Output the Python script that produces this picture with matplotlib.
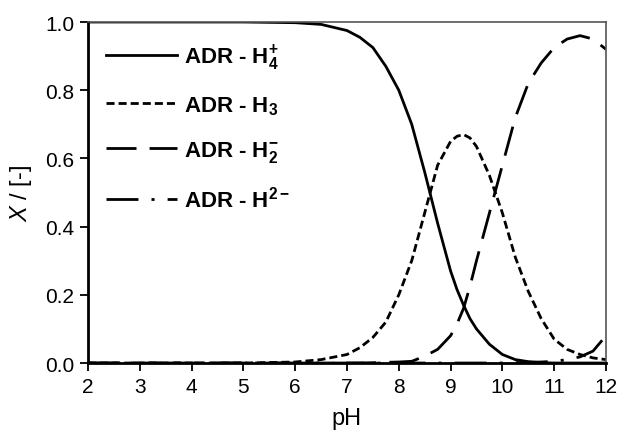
import numpy as np
import matplotlib
matplotlib.use("Agg")
import matplotlib.pyplot as plt

plt.rcParams['font.family'] = 'Liberation Sans'
plt.rcParams['mathtext.fontset'] = 'custom'
plt.rcParams['mathtext.rm'] = 'Liberation Sans:bold'
plt.rcParams['mathtext.it'] = 'Liberation Sans:italic'
plt.rcParams['mathtext.bf'] = 'Liberation Sans:bold'

# Speciation of adrenaline vs pH (mole fractions)
ph = [2.0, 3.0, 4.0, 5.0, 6.0, 6.5, 7.0, 7.25, 7.5, 7.75, 8.0, 8.25, 8.5, 8.75,
      9.0, 9.125, 9.25, 9.375, 9.5, 9.75, 10.0, 10.25, 10.5, 10.75, 11.0, 11.25, 11.5, 11.75, 12.0]
x_h4 = [1.0, 1.0, 1.0, 1.0, 0.998, 0.993, 0.975, 0.955, 0.925, 0.87, 0.80, 0.70, 0.56, 0.41,
        0.27, 0.215, 0.17, 0.13, 0.10, 0.055, 0.025, 0.01, 0.004, 0.001, 0.0, 0.0, 0.0, 0.0, 0.0]
x_h3 = [0.0, 0.0, 0.0, 0.0, 0.003, 0.01, 0.025, 0.045, 0.075, 0.12, 0.20, 0.30, 0.44, 0.58,
        0.65, 0.665, 0.67, 0.66, 0.635, 0.55, 0.44, 0.31, 0.21, 0.13, 0.07, 0.04, 0.025, 0.015, 0.01]
x_h2 = [0.0, 0.0, 0.0, 0.0, 0.0, 0.0, 0.0, 0.0, 0.001, 0.002, 0.003, 0.005, 0.02, 0.04,
        0.08, 0.115, 0.16, 0.225, 0.30, 0.44, 0.58, 0.72, 0.82, 0.88, 0.925, 0.95, 0.96, 0.95, 0.92]
x_h = [0.0, 0.0, 0.0, 0.0, 0.0, 0.0, 0.0, 0.0, 0.0, 0.0, 0.0, 0.0, 0.0, 0.0,
       0.0, 0.0, 0.0, 0.0, 0.0, 0.0, 0.0, 0.001, 0.002, 0.003, 0.005, 0.01, 0.018, 0.035, 0.08]

labels = [r'ADR - H$_4^{+}$', r'ADR - H$_3$', r'ADR - H$_2^{-}$', r'ADR - H$^{2-}$']

fig = plt.figure(figsize=(6.21, 4.39), dpi=100)
ax = fig.add_axes([0.1417, 0.1708, 0.8341, 0.7768])

lw = 2.0
ax.plot(ph, x_h4, color='black', lw=lw, ls='-', label=labels[0])
ax.plot(ph, x_h3, color='black', lw=lw, ls=(0, (2.9, 1.45)), label=labels[1])
ax.plot(ph, x_h2, color='black', lw=lw, ls=(0, (10.8, 4.7)), label=labels[2])
ax.plot(ph, x_h, color='black', lw=lw, ls=(0, (11.5, 4.7, 1.1, 4.7)), label=labels[3])

ax.set_xlim(2, 12)
ax.set_ylim(0, 1.0)
ax.set_xticks(np.arange(2, 13, 1))
ax.set_yticks(np.arange(0, 1.01, 0.2))
ax.set_yticklabels(['0.0', '0.2', '0.4', '0.6', '0.8', '1.0'])
ax.tick_params(direction='out', length=6, width=1.3, labelsize=15, colors='black', pad=4)

for s in ['left', 'bottom']:
    ax.spines[s].set_linewidth(2)
for s in ['top', 'right']:
    ax.spines[s].set_linewidth(1.2)
    ax.spines[s].set_color('#555555')

ax.set_xlabel('pH', fontsize=17, labelpad=8)
ax.set_ylabel(r'$X$ / [-]', fontsize=17, labelpad=8)

ax.legend(loc='upper left', bbox_to_anchor=(0.035, 0.94), frameon=False,
          prop={'size': 16, 'weight': 'bold'}, handlelength=3.2, handletextpad=0.3,
          labelspacing=1.0, borderpad=0, borderaxespad=0)

plt.savefig('out.png', dpi=100)
